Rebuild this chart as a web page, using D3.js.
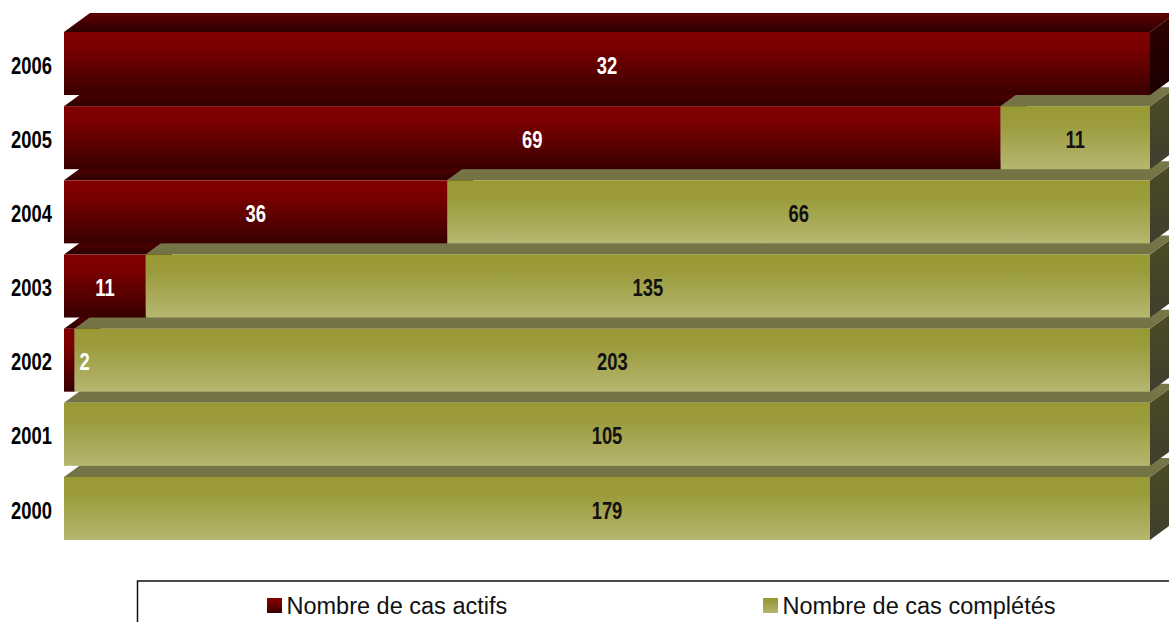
<!DOCTYPE html>
<html><head><meta charset="utf-8">
<script src="https://cdn.jsdelivr.net/npm/d3@7"></script>
<style>body{margin:0;background:#fff}svg{display:block}</style>
</head><body>
<script>
const years = ["2006","2005","2004","2003","2002","2001","2000"];
const actifs = [32, 69, 36, 11, 2, 0, 0];
const completes = [0, 11, 66, 135, 203, 105, 179];
const seriesNames = ["Nombre de cas actifs", "Nombre de cas complétés"];

const W = 1169, H = 622;
const svg = d3.select("body").append("svg").attr("width", W).attr("height", H);
const defs = svg.append("defs");
function grad(id, stops, vertical=true){
  const g = defs.append("linearGradient").attr("id", id)
    .attr("x1",0).attr("y1",0).attr("x2",vertical?0:1).attr("y2",vertical?1:0);
  stops.forEach(([o,c])=>g.append("stop").attr("offset",o).attr("stop-color",c));
}
grad("rFront", [[0,"#820000"],[0.25,"#7a0000"],[1,"#380000"]]);
grad("rTop", [[0,"#600000"],[1,"#2c0000"]]);
grad("rSide", [[0,"#2e0000"],[1,"#1a0000"]]);
grad("oFront", [[0,"#999933"],[0.3,"#9c9c3e"],[1,"#b6b670"]]);
grad("oTop", [[0,"#777748"],[1,"#727245"]]);
grad("oSide", [[0,"#4c4c24"],[1,"#3e3e2e"]]);

const x = d3.scaleLinear().domain([0,1]).range([64,1150]);
const y = d3.scaleBand().domain(years).range([32,540]).paddingInner(0.15).paddingOuter(0);
const DX = 26, DY = 19;
const NARROW = 0.8;
const styles = [
  {front:"url(#rFront)", top:"url(#rTop)", side:"url(#rSide)", text:"#ffffff"},
  {front:"url(#oFront)", top:"url(#oTop)", side:"url(#oSide)", text:"#111111"}
];

const rows = years.map((yr,i)=>{
  const tot = actifs[i] + completes[i];
  return {yr, segs:[
    {v:actifs[i], a:0, b:actifs[i]/tot, s:0},
    {v:completes[i], a:actifs[i]/tot, b:1, s:1}
  ]};
});

const g = svg.append("g");
rows.slice().reverse().forEach(row=>{
  const y0 = y(row.yr), h = y.bandwidth();
  row.segs.forEach(sg=>{
    if (sg.v <= 0) return;
    const x0 = x(sg.a), x1 = x(sg.b), st = styles[sg.s];
    g.append("path").attr("fill", st.side)
      .attr("d", `M${x1},${y0}L${x1+DX},${y0-DY}L${x1+DX},${y0+h-DY}L${x1},${y0+h}Z`);
    g.append("path").attr("fill", st.top)
      .attr("d", `M${x0},${y0}L${x0+DX},${y0-DY}L${x1+DX},${y0-DY}L${x1},${y0}Z`);
    g.append("rect").attr("x", x0).attr("y", y0).attr("width", x1-x0).attr("height", h)
      .attr("fill", st.front);
  });
});

function narrowText(parent, tx, ty, anchor, txt, fill){
  return parent.append("text")
    .attr("transform", `translate(${tx},${ty}) scale(${NARROW},1)`)
    .attr("text-anchor", anchor).attr("dy","0.37em")
    .attr("font-family","'Liberation Sans',Arial,sans-serif")
    .attr("font-weight","bold").attr("font-size",23)
    .attr("fill", fill).text(txt);
}
rows.forEach(row=>{
  const y0 = y(row.yr), h = y.bandwidth();
  row.segs.forEach(sg=>{
    if (sg.v <= 0) return;
    const x0 = x(sg.a), x1 = x(sg.b);
    const cx = (x1 - x0) < 24 ? x1 + 10 : (x0 + x1)/2;
    narrowText(svg, cx, y0 + h/2 + 1.5, "middle", sg.v, styles[sg.s].text);
  });
  narrowText(svg, 52, y0 + h/2 + 1.5, "end", row.yr, "#000");
});

const lg = svg.append("g");
lg.append("rect").attr("x",137.5).attr("y",581).attr("width",1100).attr("height",100)
  .attr("fill","none").attr("stroke","#111").attr("stroke-width",1.5);
const legX = [267, 763];
seriesNames.forEach((n,i)=>{
  lg.append("rect").attr("x",legX[i]).attr("y",598).attr("width",15).attr("height",15)
    .attr("fill", styles[i].front);
  lg.append("text").attr("x",legX[i]+19.5).attr("y",613.5)
    .attr("font-family","'Liberation Sans',Arial,sans-serif").attr("font-size",23.5)
    .attr("fill","#111").text(n);
});
</script>
</body></html>
